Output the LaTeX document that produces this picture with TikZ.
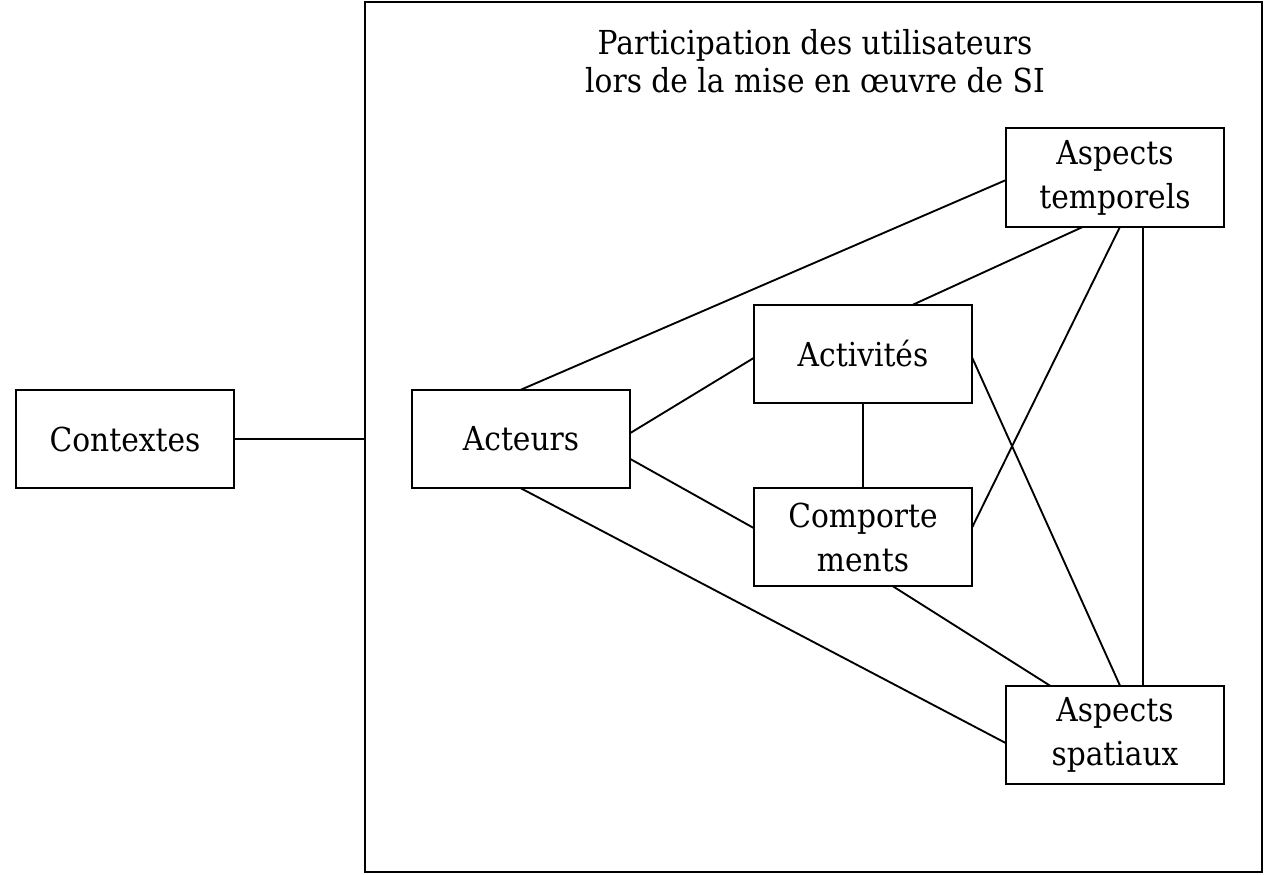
\documentclass[tikz,border=0pt]{standalone}
\usepackage{fontspec}
\setmainfont{DejaVu Serif}[FakeStretch=0.9]
\tikzset{
  boite/.style={draw, line width=1.5pt, minimum width=164pt, minimum height=74pt,
    inner sep=0pt, outer sep=0pt, align=center},
  lien/.style={line width=1.4pt}
}
\begin{document}
\begin{tikzpicture}[x=0.75pt,y=0.75pt,yscale=-1,xscale=1,font=\fontsize{24.75}{33}\selectfont]
\useasboundingbox (0,0) rectangle (1266,874);

%Shape: Rectangle [id:cadre]
\node [draw, line width=1.5pt, minimum width=672.75pt, minimum height=652.5pt, inner sep=0pt, outer sep=0pt] (cadre) at (813.5,437) {};

% Text Node
\node [align=center, font=\fontsize{24.75}{28.5}\selectfont] (titre) at (815,61) {Participation des utilisateurs\\lors de la mise en œuvre de SI};

% Boxes
\node [boite] (contextes) at (125,439) {Contextes};
\node [boite] (acteurs) at (521,439) {Acteurs};
\node [boite] (activites) at (863,354) {Activités};
\node [boite] (comportements) at (863,537) {Comporte\\ments};
\node [boite] (temporels) at (1115,177.5) {Aspects\\temporels};
\node [boite] (spatiaux) at (1115,735) {Aspects\\spatiaux};

%Straight Lines
\draw [lien] (contextes.east) -- (contextes.east -| cadre.west);
\draw [lien] (acteurs.north) -- ([yshift=2pt]temporels.west);
\draw [lien] ([yshift=-4.5pt]acteurs.east) -- ([yshift=3pt]activites.west);
\draw [lien] ([yshift=15pt]acteurs.east) -- ([yshift=-6.75pt]comportements.west);
\draw [lien] (acteurs.south) -- ([yshift=6pt]spatiaux.west);
\draw [lien] ([xshift=37.5pt]activites.north) -- ([xshift=-24pt]temporels.south);
\draw [lien] (activites.south) -- (comportements.north);
\draw [lien] ([yshift=3pt]activites.east) -- ([xshift=3.75pt]spatiaux.north);
\draw [lien] ([yshift=-7.5pt]comportements.east) -- ([xshift=3.75pt]temporels.south);
\draw [lien] ([xshift=22.5pt]comportements.south) -- ([xshift=-48.75pt]spatiaux.north);
\draw [lien] ([xshift=21pt]temporels.south) -- ([xshift=21pt]spatiaux.north);

\end{tikzpicture}
\end{document}
